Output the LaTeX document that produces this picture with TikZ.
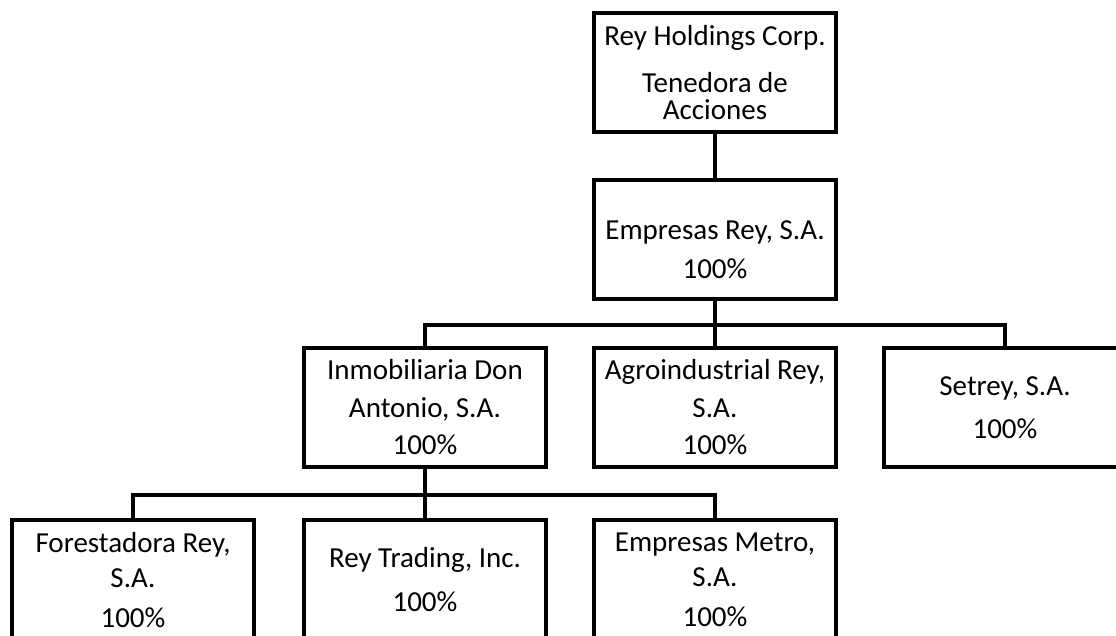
\documentclass[tikz,border=0pt]{standalone}
\usepackage{fontspec}
\setmainfont{Carlito}
\usepackage{tikz}

\begin{document}
\begin{tikzpicture}[x=0.5pt,y=-0.5pt,
  caja/.style={draw=black, line width=2pt, minimum width=121pt, minimum height=59.5pt,
    inner sep=0pt, align=center, font=\fontsize{14.5}{18.75}\selectfont},
  linea/.style={black, line width=2pt}]
\useasboundingbox (0,0) rectangle (1116,636);
\clip (0,0) rectangle (1116,636);

\node[caja] (hold) at (715,72.5) {Rey Holdings Corp.\\[4.75pt]Tenedora de\\[-5.25pt]Acciones};
\node[caja] (emp) at (715,240) {\rule{0pt}{19pt}Empresas Rey, S.A.\\[0.5pt]100\%};

\node[caja] (inm) at (425,407.5) {Inmobiliaria Don\\Antonio, S.A.\\100\%};
\node[caja] (agr) at (715,407.5) {Agroindustrial Rey,\\S.A.\\100\%};
\node[caja] (set) at (1005,407.5) {Setrey, S.A.\\[2.75pt]100\%};

\node[caja] (for) at (133,580) {Forestadora Rey,\\[-1.25pt]S.A.\\[1.25pt]100\%};
\node[caja] (rey) at (425,580) {Rey Trading, Inc.\\[3.25pt]100\%};
\node[caja] (met) at (715,580) {Empresas Metro,\\[-1.25pt]S.A.\\[1.25pt]100\%};

\coordinate (b1) at (0,325);
\coordinate (b2) at (0,495);

\draw[linea] (hold) -- (emp);
\draw[linea] (emp.south) -- (emp.south |- b1);
\draw[linea] (inm.north) -- (inm.north |- b1) -- (set.north |- b1) -- (set.north);
\draw[linea] (agr.north) -- (agr.north |- b1);

\draw[linea] (inm.south) -- (inm.south |- b2);
\draw[linea] (for.north) -- (for.north |- b2) -- (met.north |- b2) -- (met.north);
\draw[linea] (rey.north) -- (rey.north |- b2);

\end{tikzpicture}
\end{document}
